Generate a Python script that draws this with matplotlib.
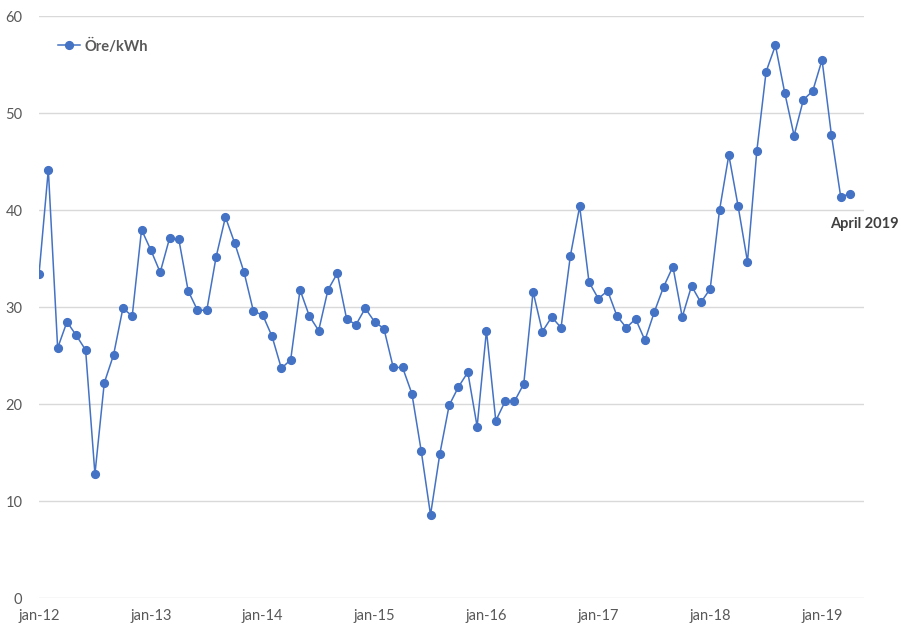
import matplotlib
matplotlib.use("Agg")
import matplotlib.pyplot as plt

plt.rcParams['font.family'] = ['Lato', 'DejaVu Sans']

values = [
    33.4, 44.2, 25.8, 28.5, 27.1, 25.6, 12.8, 22.2, 25.1, 29.9, 29.1, 38.0,
    35.9, 33.6, 37.1, 37.0, 31.7, 29.7, 29.7, 35.2, 39.3, 36.6, 33.6, 29.6,
    29.2, 27.0, 23.7, 24.6, 31.8, 29.1, 27.6, 31.8, 33.5, 28.8, 28.2, 29.9,
    28.5, 27.8, 23.8, 23.8, 21.1, 15.2, 8.6, 14.9, 19.9, 21.8, 23.3, 17.7,
    27.6, 18.3, 20.3, 20.3, 22.1, 31.6, 27.5, 29.0, 27.9, 35.3, 40.4, 32.6,
    30.9, 31.7, 29.1, 27.9, 28.8, 26.6, 29.5, 32.1, 34.2, 29.0, 32.2, 30.5,
    31.9, 40.0, 45.7, 40.4, 34.7, 46.1, 54.3, 57.0, 52.1, 47.7, 51.4, 52.3,
    55.5, 47.8, 41.4, 41.7,
]
tick_labels = ["jan-12", "jan-13", "jan-14", "jan-15", "jan-16", "jan-17", "jan-18", "jan-19"]
y_ticks = [0, 10, 20, 30, 40, 50, 60]
series_name = "Öre/kWh"
annotation = "April 2019"

months = list(range(len(values)))
tick_pos = [12 * i for i in range(len(tick_labels))]

W, H = 901, 637
fig = plt.figure(figsize=(W / 100, H / 100), dpi=100)
ax = fig.add_axes([39 / W, 1 - 598.3 / H, (864 - 39) / W, (598.3 - 16.3) / H])

color = "#4472C4"
ax.plot(months, values, color=color, linewidth=1.1, marker="o", markersize=5.6,
        markeredgecolor=color, markerfacecolor=color, label=series_name, zorder=3)

ax.set_xlim(0, 88.5)
ax.set_ylim(0, 60)
ax.set_yticks(y_ticks)
ax.set_xticks(tick_pos)
ax.set_xticklabels(tick_labels)
ax.grid(axis="y", color="#d9d9d9", linewidth=1)
ax.set_axisbelow(True)
for s in ax.spines.values():
    s.set_visible(False)
ax.tick_params(axis="both", length=0, labelcolor="#595959", labelsize=10.5)
ax.tick_params(axis="y", pad=12)
ax.tick_params(axis="x", pad=8)

leg = ax.legend(loc="center left", bbox_to_anchor=(0.023, 0.949), frameon=False,
                handlelength=1.5, handletextpad=0.3, borderaxespad=0, borderpad=0,
                prop={"weight": "bold", "size": 10.5})
for t in leg.get_texts():
    t.set_color("#595959")

ax.annotate(annotation, xy=(months[-1], values[-1]), xytext=(14, -30),
            textcoords="offset pixels", ha="center", va="center",
            fontsize=10.5, fontweight="bold", color="#404040", annotation_clip=False)

fig.savefig("out.png", dpi=100)
